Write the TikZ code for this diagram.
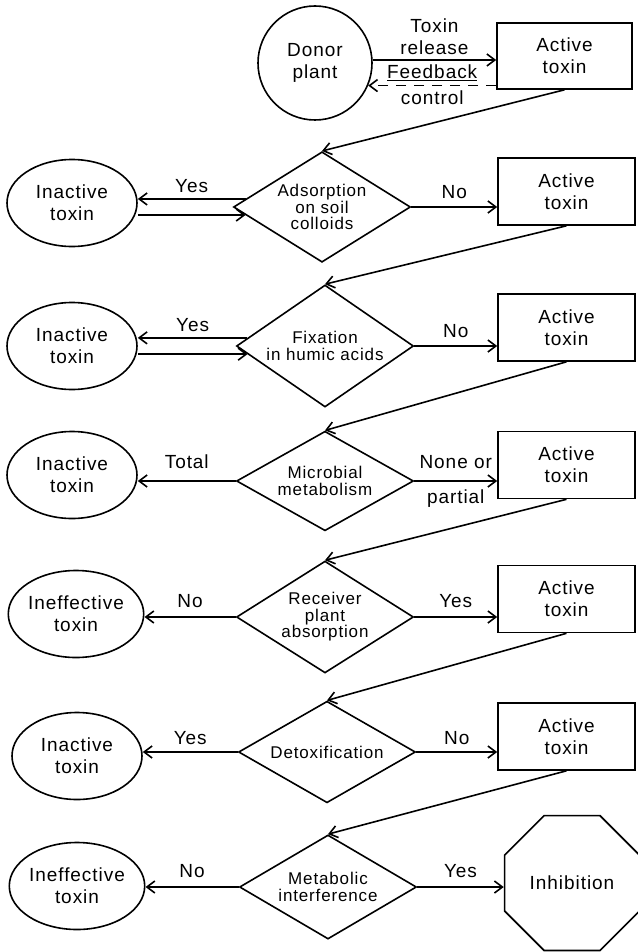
\documentclass[tikz,border=0pt]{standalone}
\usepackage{fontspec}
\setmainfont{Liberation Sans}[LetterSpace=5.0]
\usetikzlibrary{shapes.geometric}
\usetikzlibrary{arrows.meta}

\newcommand{\nodefont}{\fontsize{19}{22}\selectfont}
\newcommand{\decfont}{\fontsize{17}{16.5}\selectfont}

\begin{document}
\begin{tikzpicture}[x=1pt,y=-1pt,line width=1.6pt,
  activebox/.style={draw,rectangle,minimum width=137pt,minimum height=67pt,align=center,font=\nodefont},
  inactive/.style={draw,ellipse,minimum width=130pt,minimum height=87pt,inner sep=0pt,align=center,font=\nodefont},
  decision/.style={draw,diamond,minimum width=177pt,minimum height=91pt,inner sep=-6pt,align=center,font=\decfont},
  arr/.style={-{Straight Barb[length=8pt,width=12pt]}},
  lbl/.style={font=\nodefont,align=center}]
\useasboundingbox (0,0) rectangle (637,952);

% source and first active pool
\node[draw,circle,minimum size=114pt,align=center,font=\nodefont] (donor) at (315,63) {Donor\\plant};
\node[activebox,minimum width=135pt,minimum height=66pt] (b1) at (564.5,56) {Active\\toxin};
\draw[arr] (donor.3) -- (b1.west |- donor.3) node[lbl,midway,above=1pt] {Toxin\\release};
\draw[arr,dash pattern=on 10pt off 8pt] (b1.west |- donor.-23) -- (donor.-23)
  node[lbl,midway,above=1pt] {\underline{Feedback}} node[lbl,midway,below=1pt] {control};

% adsorption
\node[inactive] (e1) at (72,203) {Inactive\\toxin};
\node[decision] (d1) at (322,207) {Adsorption\\on soil\\colloids};
\node[activebox] (b2) at (566.5,191.5) {Active\\toxin};
\draw[arr] (b1.south) -- (d1.north);
\draw[arr] (d1.174) -- (d1.174 -| e1.east) node[lbl,midway,above=2pt] {Yes};
\draw[arr] (d1.186 -| e1.east) -- (d1.186);
\draw[arr] (d1.east) -- (d1.east -| b2.west) node[lbl,midway,above=4pt] {No};

% fixation
\node[inactive] (e2) at (72,346) {Inactive\\toxin};
\node[decision] (d2) at (325,346) {Fixation\\in humic acids};
\node[activebox] (b3) at (566.5,327.5) {Active\\toxin};
\draw[arr] (b2.south) -- (d2.north);
\draw[arr] (d2.174) -- (d2.174 -| e2.east) node[lbl,midway,above=2pt] {Yes};
\draw[arr] (d2.186 -| e2.east) -- (d2.186);
\draw[arr] (d2.east) -- (d2.east -| b3.west) node[lbl,midway,above=4pt] {No};

% microbial breakdown
\node[inactive] (e3) at (72,475) {Inactive\\toxin};
\node[decision] (d3) at (325,481) {Microbial\\metabolism};
\node[activebox] (b4) at (566.5,465) {Active\\toxin};
\draw[arr] (b3.south) -- (d3.north);
\draw[arr] (d3.west) -- (d3.west -| e3.east) node[lbl,midway,above=8pt] {Total};
\draw[arr] (d3.east) -- (d3.east -| b4.west) node[lbl,midway,above=8pt] {None or}
  node[lbl,midway,below=5pt] {partial};

% uptake by receiver
\node[inactive] (e4) at (76,614) {Ineffective\\toxin};
\node[decision] (d4) at (325,617) {Receiver\\plant\\absorption};
\node[activebox] (b5) at (566.5,599) {Active\\toxin};
\draw[arr] (b4.south) -- (d4.north);
\draw[arr] (d4.west) -- (d4.west -| e4.east) node[lbl,midway,above=5pt] {No};
\draw[arr] (d4.east) -- (d4.east -| b5.west) node[lbl,midway,above=5pt] {Yes};

% detoxification
\node[inactive] (e5) at (77,756) {Inactive\\toxin};
\node[decision] (d5) at (327,752) {Detoxification};
\node[activebox] (b6) at (566.5,736.5) {Active\\toxin};
\draw[arr] (b5.south) -- (d5.north);
\draw[arr] (d5.west) -- (d5.west -| e5.east) node[lbl,midway,above=3pt] {Yes};
\draw[arr] (d5.east) -- (d5.east -| b6.west) node[lbl,midway,above=3pt] {No};

% final step
\node[inactive] (e6) at (77,886) {Ineffective\\toxin};
\node[decision] (d6) at (328,887) {Metabolic\\interference};
\node[draw,regular polygon,regular polygon sides=8,minimum size=146pt,inner sep=0pt,font=\nodefont] (inhib) at (572,883) {Inhibition};
\draw[arr] (b6.south) -- (d6.north);
\draw[arr] (d6.west) -- (d6.west -| e6.east) node[lbl,midway,above=5pt] {No};
\draw[arr] (d6.east) -- (d6.east -| inhib.west) node[lbl,midway,above=5pt] {Yes};
\end{tikzpicture}
\end{document}
